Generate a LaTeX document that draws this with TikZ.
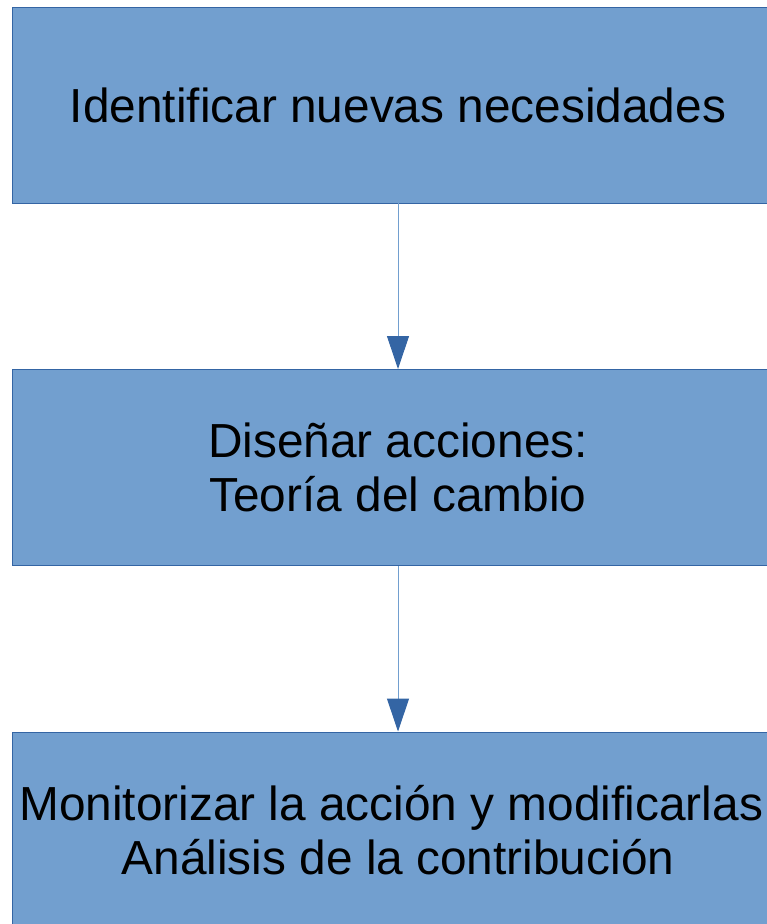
\documentclass[tikz,border=0pt]{standalone}
\usepackage{fontspec}
\setmainfont{Liberation Sans}
\usetikzlibrary{arrows.meta}

\definecolor{boxfill}{HTML}{729FCF}
\definecolor{boxline}{HTML}{3465A4}

\tikzset{
	etapa/.style={shape=rectangle, fill=boxfill, draw=boxline, line width=0.7pt,
		minimum width=19.3cm, minimum height=4.9cm, align=center,
		font=\fontsize{34}{38.4}\selectfont},
	flecha/.style={draw=boxfill, line width=0.7pt,
		-{Triangle[width=0.55cm, length=0.825cm, color=boxline]}}
}

\begin{document}
\begin{tikzpicture}
		\useasboundingbox (0,0) rectangle (19.175,-23.1);
		\draw (9.95,-2.625) node[etapa](necesidades){Identificar nuevas necesidades};
		\draw (9.95,-11.6875) node[etapa](acciones){Diseñar acciones:\\Teoría del cambio};
		\draw (9.95,-20.75) node[etapa](monitoreo){Monitorizar la acción y modificarlas\hspace*{0.34cm}\\Análisis de la contribución};

		\draw[flecha] (necesidades) -- (acciones);
		\draw[flecha] (acciones) -- (monitoreo);
	\end{tikzpicture}
\end{document}
